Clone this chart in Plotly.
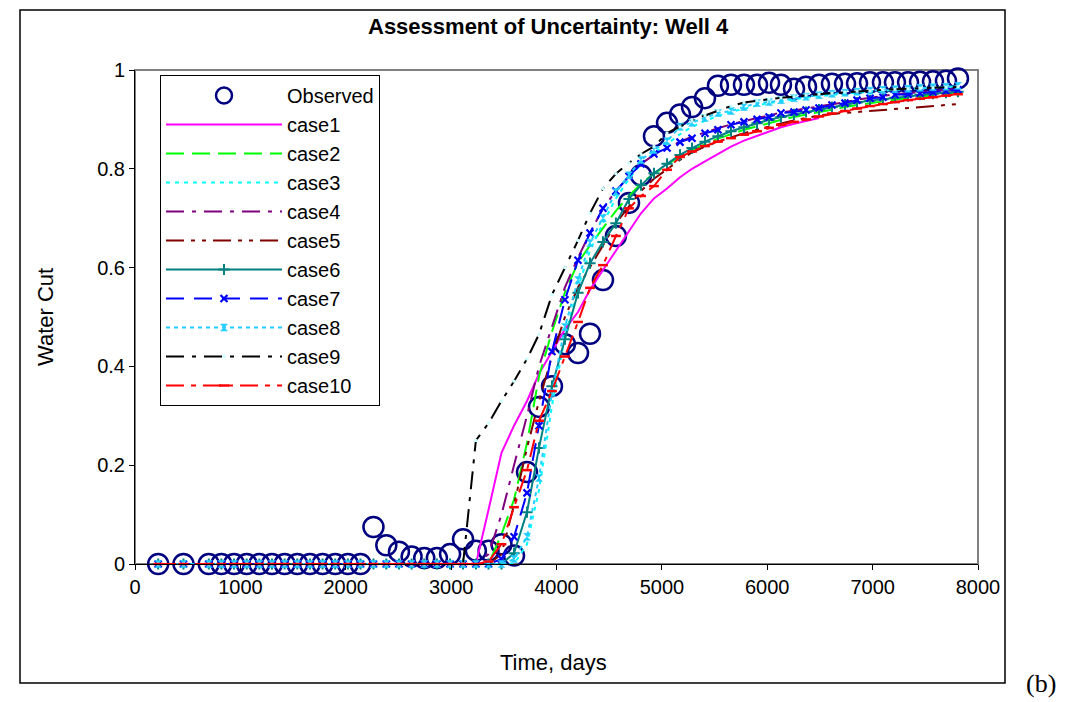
import plotly.graph_objects as go

# ---------------- data ----------------
T = [220, 460, 700, 820, 940, 1060, 1180, 1300, 1420, 1540, 1660, 1780, 1900, 2020, 2140,
     2263, 2385, 2505, 2625, 2745, 2865, 2990, 3113, 3235, 3355, 3478, 3597,
     3720, 3834, 3957, 4080, 4204, 4318, 4441, 4564, 4688, 4802, 4925, 5049, 5172, 5286,
     5409, 5532, 5656, 5779, 5903, 6017, 6130, 6254, 6368, 6491, 6614, 6738, 6852, 6975,
     7098, 7212, 7336, 7450, 7573, 7696, 7810]

observed = [0, 0, 0, 0, 0, 0, 0, 0, 0, 0, 0, 0, 0, 0, 0,
            0.075, 0.038, 0.025, 0.015, 0.012, 0.012, 0.02, 0.05, 0.027, 0.027, 0.04, 0.017,
            0.186, 0.318, 0.36, 0.445, 0.427, 0.466, 0.575, 0.664, 0.731, 0.787, 0.866, 0.893,
            0.91, 0.925, 0.943, 0.968, 0.97, 0.97, 0.97, 0.974, 0.97, 0.962, 0.966, 0.97,
            0.972, 0.972, 0.973, 0.975, 0.975, 0.975, 0.975, 0.976, 0.977, 0.978, 0.983]

case1 = [0, 0, 0, 0, 0, 0, 0, 0, 0, 0, 0, 0, 0, 0, 0, 0, 0, 0, 0, 0, 0, 0, 0, 0,
         0.11, 0.225, 0.28, 0.33, 0.385, 0.43, 0.475, 0.51, 0.555, 0.595, 0.635, 0.675,
         0.71, 0.74, 0.76, 0.783, 0.80, 0.815, 0.83, 0.845, 0.857, 0.867, 0.876, 0.884,
         0.891, 0.897, 0.903]

case2 = [0, 0, 0, 0, 0, 0, 0, 0, 0, 0, 0, 0, 0, 0, 0, 0, 0, 0, 0, 0, 0, 0, 0, 0,
         0.0, 0.06, 0.13, 0.245, 0.38, 0.47, 0.55, 0.61, 0.645, 0.68, 0.715, 0.745, 0.77,
         0.79, 0.808, 0.826, 0.838, 0.85, 0.861, 0.87, 0.879, 0.886, 0.893, 0.899, 0.905,
         0.91, 0.915, 0.92, 0.925, 0.929, 0.933, 0.937, 0.94, 0.943, 0.946, 0.949, 0.952,
         0.955]

case3 = [0, 0, 0, 0, 0, 0, 0, 0, 0, 0, 0, 0, 0, 0, 0, 0, 0, 0, 0, 0, 0, 0, 0, 0, 0, 0,
         0.0, 0.04, 0.15, 0.32, 0.46, 0.56, 0.635, 0.69, 0.74, 0.78, 0.81, 0.832, 0.85,
         0.87, 0.885, 0.897, 0.907, 0.915, 0.922, 0.928, 0.933, 0.937, 0.941, 0.944, 0.947,
         0.95, 0.952, 0.954, 0.956, 0.958, 0.96, 0.961, 0.963, 0.964, 0.965, 0.967]

case4 = [0, 0, 0, 0, 0, 0, 0, 0, 0, 0, 0, 0, 0, 0, 0, 0, 0, 0, 0, 0, 0, 0, 0, 0,
         0.02, 0.1, 0.2, 0.3, 0.4, 0.48, 0.56, 0.62, 0.67, 0.72, 0.755, 0.785, 0.81, 0.828,
         0.842, 0.855, 0.865, 0.874, 0.882, 0.89, 0.897, 0.903, 0.908, 0.914, 0.918, 0.922,
         0.926, 0.93, 0.935, 0.94, 0.944, 0.947, 0.951, 0.953, 0.955, 0.957, 0.959, 0.962]

case5 = [0, 0, 0, 0, 0, 0, 0, 0, 0, 0, 0, 0, 0, 0, 0, 0, 0, 0, 0, 0, 0, 0, 0, 0, 0,
         0.02, 0.12, 0.235, 0.33, 0.42, 0.5, 0.56, 0.6, 0.645, 0.69, 0.725, 0.755, 0.78,
         0.8, 0.818, 0.833, 0.845, 0.855, 0.864, 0.872, 0.879, 0.886, 0.892, 0.898, 0.903,
         0.908, 0.911, 0.913, 0.915, 0.917, 0.919, 0.921, 0.923, 0.925, 0.927, 0.929, 0.931]

case6 = [0, 0, 0, 0, 0, 0, 0, 0, 0, 0, 0, 0, 0, 0, 0, 0, 0, 0, 0, 0, 0, 0, 0, 0, 0, 0,
         0.022, 0.105, 0.235, 0.36, 0.455, 0.549, 0.609, 0.652, 0.69, 0.739, 0.767, 0.791,
         0.81, 0.828, 0.842, 0.855, 0.866, 0.876, 0.884, 0.892, 0.899, 0.905, 0.91, 0.915,
         0.92, 0.925, 0.93, 0.934, 0.938, 0.941, 0.944, 0.947, 0.95, 0.952, 0.954, 0.956]

case7 = [0, 0, 0, 0, 0, 0, 0, 0, 0, 0, 0, 0, 0, 0, 0, 0, 0, 0, 0, 0, 0, 0, 0, 0, 0,
         0.01, 0.055, 0.144, 0.28, 0.43, 0.535, 0.615, 0.67, 0.72, 0.755, 0.785, 0.81,
         0.83, 0.842, 0.854, 0.862, 0.872, 0.879, 0.889, 0.895, 0.9, 0.905, 0.913, 0.915,
         0.919, 0.923, 0.929, 0.933, 0.939, 0.943, 0.945, 0.95, 0.951, 0.953, 0.955, 0.957,
         0.96]

case8 = [0, 0, 0, 0, 0, 0, 0, 0, 0, 0, 0, 0, 0, 0, 0, 0, 0, 0, 0, 0, 0, 0, 0, 0, 0, 0,
         0.01, 0.055, 0.174, 0.346, 0.48, 0.575, 0.65, 0.70, 0.753, 0.787, 0.818, 0.838,
         0.856, 0.885, 0.893, 0.903, 0.913, 0.917, 0.925, 0.933, 0.935, 0.939, 0.943, 0.946,
         0.949, 0.952, 0.954, 0.956, 0.958, 0.96, 0.961, 0.962, 0.964, 0.965, 0.966, 0.968]

case9 = [0, 0, 0, 0, 0, 0, 0, 0, 0, 0, 0, 0, 0, 0, 0, 0, 0, 0, 0, 0, 0, 0, 0,
         0.25, 0.285, 0.33, 0.37, 0.415, 0.465, 0.545, 0.60, 0.655, 0.71, 0.76, 0.79, 0.812,
         0.83, 0.845, 0.872, 0.885, 0.898, 0.908, 0.918, 0.927, 0.934, 0.938, 0.941, 0.944,
         0.946, 0.949, 0.951, 0.953, 0.955, 0.957, 0.958, 0.96, 0.961, 0.962, 0.963, 0.964,
         0.965, 0.966]

case10 = [0, 0, 0, 0, 0, 0, 0, 0, 0, 0, 0, 0, 0, 0, 0, 0, 0, 0, 0, 0, 0, 0, 0, 0,
          0.005, 0.04, 0.115, 0.19, 0.29, 0.35, 0.42, 0.49, 0.559, 0.605, 0.664, 0.72, 0.745,
          0.765, 0.798, 0.824, 0.835, 0.846, 0.855, 0.862, 0.869, 0.876, 0.883, 0.889, 0.895,
          0.90, 0.906, 0.912, 0.917, 0.922, 0.927, 0.931, 0.935, 0.939, 0.942, 0.945, 0.948,
          0.951]

x_ticks = [0, 1000, 2000, 3000, 4000, 5000, 6000, 7000, 8000]
y_ticks = [0, 0.2, 0.4, 0.6, 0.8, 1]
y_tick_text = ["0", "0.2", "0.4", "0.6", "0.8", "1"]

# ---------------- figure ----------------
FONT = "Arial, Liberation Sans, sans-serif"
fig = go.Figure()

fig.add_trace(go.Scatter(
    x=T, y=observed, name="Observed", mode="markers", legendgroup="obs",
    marker=dict(symbol="circle-open", size=20, color="#000080", line=dict(width=2.5, color="#000080")),
    cliponaxis=False))

cases = [
    ("case1", case1, "#FF00FF", "solid", None),
    ("case2", case2, "#00FF00", "18px,8px", None),
    ("case3", case3, "#00FFFF", "4px,5px", None),
    ("case4", case4, "#800080", "18px,8px,4px,8px", None),
    ("case5", case5, "#800000", "18px,7px,4px,7px,4px,7px", None),
    ("case6", case6, "#008080", "solid", dict(symbol="cross-thin", size=8, color="#008080",
                                             line=dict(width=2, color="#008080"))),
    ("case7", case7, "#0000FF", "18px,10px", dict(symbol="x-thin", size=7, color="#0000FF",
                                                 line=dict(width=2.2, color="#0000FF"))),
    ("case8", case8, "#22CCFF", "4px,4px", dict(symbol="hourglass", size=7, color="#22CCFF",
                                               line=dict(width=0.5, color="#22CCFF"))),
    ("case9", case9, "#000000", "18px,8px,4px,8px", dict(symbol="square", size=3, color="#CCFFFF",
                                                        line=dict(width=0))),
    ("case10", case10, "#FF0000", "18px,7px,5px,7px", dict(symbol="line-ew", size=7, color="#FF0000",
                                                          line=dict(width=2.5, color="#FF0000"))),
]
for name, vals, col, dash, mk in cases:
    fig.add_trace(go.Scatter(
        x=T[:len(vals)], y=vals, name=name, legendgroup=name,
        mode="lines+markers" if mk else "lines",
        line=dict(color=col, width=2, dash=dash),
        marker=mk if mk else None,
        cliponaxis=False))

L, R, TOP, B = 135, 978, 70, 564
W, H = 1065, 702
pw, ph = R - L, B - TOP

def px(x):
    return (x - L) / pw

def py(y):
    return (B - y) / ph

fig.update_layout(
    width=W, height=H,
    margin=dict(l=L, r=W - R, t=TOP, b=H - B, pad=0),
    paper_bgcolor="white", plot_bgcolor="white",
    font=dict(family=FONT, size=20, color="black"),
    xaxis=dict(range=[0, 8000], tickvals=x_ticks, showgrid=False, zeroline=False,
               showline=True, linecolor="black", linewidth=1, ticks="outside",
               ticklen=5, tickcolor="black", tickfont=dict(size=20)),
    yaxis=dict(range=[0, 1], tickvals=y_ticks, ticktext=y_tick_text,
               showgrid=False, zeroline=False, showline=True, linecolor="black", linewidth=1,
               ticks="outside", ticklen=5, tickcolor="black", tickfont=dict(size=20)),
    legend=dict(x=px(160), y=py(75), xanchor="left", yanchor="top",
                bgcolor="white", bordercolor="black", borderwidth=1,
                font=dict(size=20), tracegroupgap=0, itemwidth=116),
    shapes=[
        dict(type="rect", xref="paper", yref="paper", x0=0, x1=1, y0=0, y1=1,
             line=dict(color="#808080", width=2), layer="below"),
        dict(type="rect", xref="paper", yref="paper", x0=px(20), x1=px(1005),
             y0=py(683), y1=py(10), line=dict(color="black", width=1.5), layer="below"),
    ],
    annotations=[
        dict(text="<b>Assessment of Uncertainty: Well 4</b>", x=px(548), y=py(27),
             xref="paper", yref="paper", showarrow=False, xanchor="center", yanchor="middle",
             font=dict(size=22, family=FONT)),
        dict(text="Water Cut", x=px(45), y=py(317), xref="paper", yref="paper",
             showarrow=False, textangle=-90, xanchor="center", yanchor="middle",
             font=dict(size=22)),
        dict(text="Time, days", x=px(553), y=py(662), xref="paper", yref="paper",
             showarrow=False, xanchor="center", yanchor="middle", font=dict(size=22)),
        dict(text="(b)", x=px(1041), y=py(683), xref="paper", yref="paper",
             showarrow=False, xanchor="center", yanchor="middle",
             font=dict(size=26, family="Times New Roman, Liberation Serif, serif")),
    ],
)

fig.write_html("out.html")
